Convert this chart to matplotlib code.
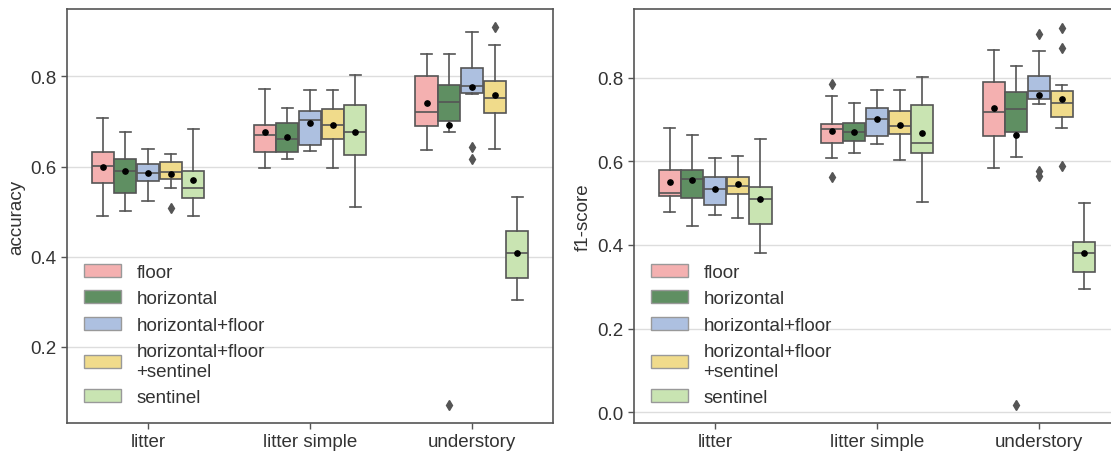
import matplotlib
matplotlib.use("Agg")
import matplotlib.pyplot as plt
import matplotlib.patches as mpatches

plt.rcParams["font.family"] = ["Liberation Sans", "DejaVu Sans"]

categories = ["litter", "litter simple", "understory"]
hues = ["floor", "horizontal", "horizontal+floor", "horizontal+floor\n+sentinel", "sentinel"]
colors = ["#f4b0b0", "#5f8f62", "#adc0e0", "#f0db8b", "#c9e4b2"]

# accuracy: rows = hue, cols = category
acc_whislo = [[0.490, 0.596, 0.636], [0.501, 0.616, 0.676], [0.524, 0.635, 0.762],
              [0.553, 0.596, 0.638], [0.491, 0.509, 0.304]]
acc_q1 = [[0.564, 0.633, 0.689], [0.542, 0.633, 0.702], [0.568, 0.648, 0.763],
          [0.573, 0.662, 0.718], [0.531, 0.626, 0.353]]
acc_med = [[0.601, 0.669, 0.722], [0.589, 0.662, 0.744], [0.586, 0.703, 0.779],
           [0.587, 0.693, 0.753], [0.553, 0.676, 0.408]]
acc_q3 = [[0.633, 0.693, 0.802], [0.616, 0.696, 0.782], [0.606, 0.724, 0.819],
          [0.610, 0.727, 0.790], [0.591, 0.736, 0.456]]
acc_whishi = [[0.708, 0.773, 0.851], [0.676, 0.730, 0.851], [0.639, 0.771, 0.899],
              [0.628, 0.771, 0.870], [0.684, 0.804, 0.533]]
acc_mean = [[0.599, 0.676, 0.742], [0.589, 0.665, 0.693], [0.586, 0.696, 0.776],
            [0.584, 0.693, 0.759], [0.570, 0.676, 0.408]]
acc_fliers = {(3, 0): [0.508], (1, 2): [0.070], (2, 2): [0.643, 0.616], (3, 2): [0.909]}

# f1-score
f1_whislo = [[0.479, 0.607, 0.583], [0.446, 0.620, 0.609], [0.471, 0.640, 0.737],
             [0.464, 0.604, 0.680], [0.381, 0.503, 0.294]]
f1_q1 = [[0.516, 0.644, 0.660], [0.513, 0.649, 0.669], [0.495, 0.660, 0.749],
         [0.521, 0.664, 0.706], [0.450, 0.620, 0.336]]
f1_med = [[0.524, 0.677, 0.718], [0.557, 0.671, 0.724], [0.534, 0.700, 0.768],
          [0.540, 0.685, 0.740], [0.510, 0.644, 0.381]]
f1_q3 = [[0.580, 0.690, 0.789], [0.580, 0.692, 0.765], [0.562, 0.728, 0.804],
         [0.562, 0.721, 0.768], [0.539, 0.734, 0.408]]
f1_whishi = [[0.680, 0.755, 0.867], [0.662, 0.740, 0.828], [0.608, 0.771, 0.864],
             [0.612, 0.771, 0.783], [0.654, 0.802, 0.500]]
f1_mean = [[0.550, 0.672, 0.727], [0.555, 0.671, 0.662], [0.534, 0.700, 0.758],
           [0.545, 0.687, 0.748], [0.510, 0.667, 0.381]]
f1_fliers = {(0, 1): [0.784, 0.562], (1, 2): [0.017], (2, 2): [0.904, 0.577, 0.565],
             (3, 2): [0.919, 0.871, 0.589]}

gray = "#555555"
fs = 13.5
step = 0.14


def draw(ax, whislo, q1, med, q3, whishi, mean, fliers, ylabel, yticks, ylim):
    for h in range(len(hues)):
        stats = []
        for c in range(len(categories)):
            stats.append(dict(whislo=whislo[h][c], q1=q1[h][c], med=med[h][c], q3=q3[h][c],
                              whishi=whishi[h][c], mean=mean[h][c],
                              fliers=fliers.get((h, c), [])))
        pos = [c + (h - 2) * step for c in range(len(categories))]
        ax.bxp(stats, positions=pos, widths=step * 0.98, patch_artist=True, showmeans=True,
               boxprops=dict(facecolor=colors[h], edgecolor=gray, linewidth=1.2),
               medianprops=dict(color=gray, linewidth=1.2),
               whiskerprops=dict(color=gray, linewidth=1.2),
               capprops=dict(color=gray, linewidth=1.2),
               flierprops=dict(marker="d", markerfacecolor=gray, markeredgecolor=gray,
                               markersize=5),
               meanprops=dict(marker="o", markerfacecolor="black", markeredgecolor="black",
                              markersize=3.8),
               manage_ticks=False)
    ax.set_xlim(-0.5, 2.5)
    ax.set_ylim(*ylim)
    ax.set_xticks(range(len(categories)))
    ax.set_xticklabels(categories)
    ax.set_yticks(yticks)
    ax.set_yticklabels([f"{t:.1f}" for t in yticks])
    ax.yaxis.grid(True, color="#dddddd", linewidth=1)
    ax.set_axisbelow(True)
    ax.tick_params(length=4, width=1, color=gray, labelsize=fs, labelcolor="#333333")
    for s in ax.spines.values():
        s.set_color(gray)
        s.set_linewidth(1.2)
    ax.set_ylabel(ylabel, fontsize=fs, color="#333333")
    handles = [mpatches.Patch(facecolor=colors[i], edgecolor="#999999", label=hues[i])
               for i in range(len(hues))]
    ax.legend(handles=handles, loc="lower left", frameon=False, fontsize=fs,
              labelspacing=0.5, handlelength=2.0, handletextpad=0.8, labelcolor="#333333")


fig = plt.figure(figsize=(11.11, 4.52), dpi=100)
ax1 = fig.add_axes([0.0603, 0.0619, 0.4374, 0.916])
ax2 = fig.add_axes([0.5707, 0.0619, 0.4374, 0.916])

draw(ax1, acc_whislo, acc_q1, acc_med, acc_q3, acc_whishi, acc_mean, acc_fliers,
     "accuracy", [0.2, 0.4, 0.6, 0.8], (0.03, 0.95))
draw(ax2, f1_whislo, f1_q1, f1_med, f1_q3, f1_whishi, f1_mean, f1_fliers,
     "f1-score", [0.0, 0.2, 0.4, 0.6, 0.8], (-0.026, 0.964))

plt.savefig("out.png", dpi=100)
